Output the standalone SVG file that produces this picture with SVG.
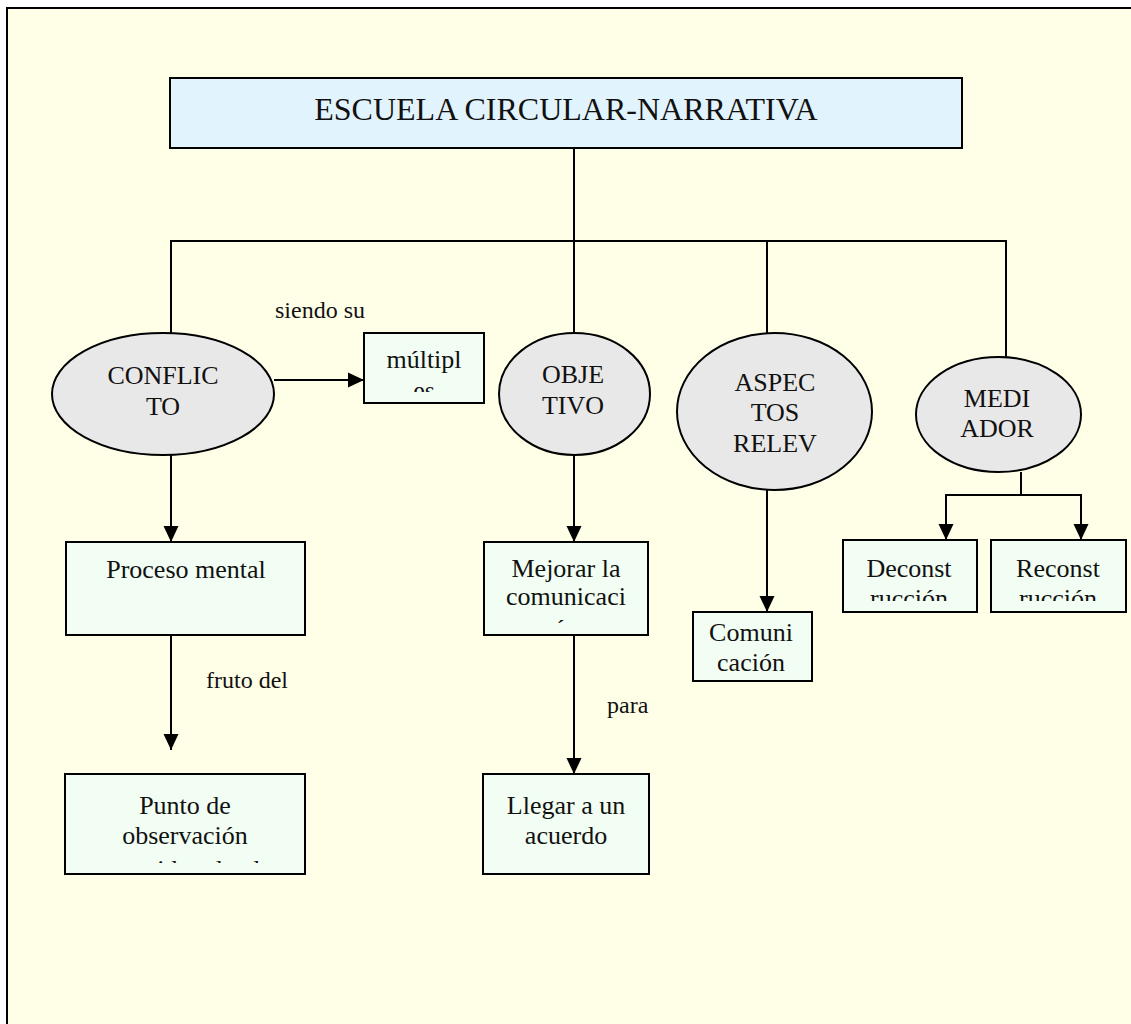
<svg xmlns="http://www.w3.org/2000/svg" width="1131" height="1024" viewBox="0 0 1131 1024">
<style>
  text { font-family: "Liberation Serif", "Times New Roman", serif; fill: #111; text-anchor: middle; }
  .t26 { font-size: 26px; }
  .lbl { font-size: 24px; text-anchor: start; }
  .box { fill: #F2FEF4; stroke: #000; stroke-width: 2; }
  .ell { fill: #E8E8E8; stroke: #000; stroke-width: 2; }
  .ln { fill: none; stroke: #000; stroke-width: 2; }
  .arr { fill: none; stroke: #000; stroke-width: 2; marker-end: url(#ah); }
</style>
<defs>
  <marker id="ah" markerWidth="17" markerHeight="17" refX="16" refY="8" orient="auto" markerUnits="userSpaceOnUse">
    <path d="M0,0.5 L16,8 L0,15.5 z" fill="#000"/>
  </marker>
  <clipPath id="c-mult"><rect x="364" y="333" width="120" height="59"/></clipPath>
  <clipPath id="c-mej"><rect x="484" y="542" width="164" height="81"/></clipPath>
  <clipPath id="c-com"><rect x="693" y="612" width="119" height="61"/></clipPath>
  <clipPath id="c-dec"><rect x="843" y="540" width="134" height="61"/></clipPath>
  <clipPath id="c-rec"><rect x="991" y="540" width="135" height="61"/></clipPath>
  <clipPath id="c-pun"><rect x="65" y="774" width="240" height="89"/></clipPath>
</defs>

<rect x="7" y="8" width="1200" height="1100" fill="#FFFFE8" stroke="#000" stroke-width="2"/>

<g id="connectors">
  <polyline class="ln" points="574,148 574,333"/>
  <polyline class="ln" points="171,333 171,241 1006,241 1006,357"/>
  <polyline class="ln" points="767,241 767,333"/>
  <line class="arr" x1="274" y1="380" x2="364" y2="380"/>
  <line class="arr" x1="171" y1="455" x2="171" y2="542"/>
  <line class="arr" x1="171" y1="635" x2="171" y2="750"/>
  <line class="arr" x1="574" y1="455" x2="574" y2="542"/>
  <line class="arr" x1="574" y1="635" x2="574" y2="774"/>
  <line class="arr" x1="767" y1="490" x2="767" y2="612"/>
  <polyline class="ln" points="1021,472 1021,495"/>
  <polyline class="arr" points="1021,495 946,495 946,540"/>
  <polyline class="arr" points="1021,495 1081,495 1081,540"/>
  <text class="lbl" x="275" y="318">siendo su</text>
  <text class="lbl" x="206" y="688">fruto del</text>
  <text class="lbl" x="607" y="713">para</text>
</g>

<g id="title">
  <rect x="170" y="78" width="792" height="70" fill="#E1F3FD" stroke="#000" stroke-width="2"/>
  <text x="566" y="120" style="font-size:32px">ESCUELA CIRCULAR-NARRATIVA</text>
</g>

<g id="conflicto">
  <ellipse class="ell" cx="163" cy="394" rx="111" ry="61"/>
  <text class="t26" x="163" y="384">CONFLIC</text>
  <text class="t26" x="163" y="415">TO</text>
</g>

<g id="multiples">
  <rect class="box" x="364" y="333" width="120" height="70"/>
  <g clip-path="url(#c-mult)">
    <text class="t26" x="424" y="368">múltipl</text>
    <text class="t26" x="424" y="399">es</text>
  </g>
</g>

<g id="objetivo">
  <ellipse class="ell" cx="574.5" cy="394" rx="75.5" ry="61"/>
  <text class="t26" x="573" y="383">OBJE</text>
  <text class="t26" x="573" y="414">TIVO</text>
</g>

<g id="aspectos">
  <ellipse class="ell" cx="774.5" cy="411.5" rx="97.5" ry="78.5"/>
  <text class="t26" x="775" y="391">ASPEC</text>
  <text class="t26" x="775" y="421">TOS</text>
  <text class="t26" x="775" y="452">RELEV</text>
</g>

<g id="mediador">
  <ellipse class="ell" cx="998.5" cy="414.5" rx="82.5" ry="57.5"/>
  <text class="t26" x="997" y="407">MEDI</text>
  <text class="t26" x="997" y="437">ADOR</text>
</g>

<g id="proceso">
  <rect class="box" x="66" y="542" width="239" height="93"/>
  <text class="t26" x="186" y="578">Proceso mental</text>
</g>

<g id="punto">
  <rect class="box" x="65" y="774" width="240" height="100"/>
  <g clip-path="url(#c-pun)">
    <text class="t26" x="185" y="814">Punto de</text>
    <text class="t26" x="185" y="844">observación</text>
    <text class="t26" x="185" y="878">considerado el</text>
  </g>
</g>

<g id="mejorar">
  <rect class="box" x="484" y="542" width="164" height="93"/>
  <g clip-path="url(#c-mej)">
    <text class="t26" x="566" y="577">Mejorar la</text>
    <text class="t26" x="566" y="605">comunicaci</text>
    <text class="t26" x="566" y="637">ón</text>
  </g>
</g>

<g id="llegar">
  <rect class="box" x="483" y="774" width="166" height="100"/>
  <text class="t26" x="566" y="814">Llegar a un</text>
  <text class="t26" x="566" y="844">acuerdo</text>
</g>

<g id="comunicacion">
  <rect class="box" x="693" y="612" width="119" height="69"/>
  <g clip-path="url(#c-com)">
    <text class="t26" x="751" y="641">Comuni</text>
    <text class="t26" x="751" y="671">cación</text>
  </g>
</g>

<g id="deconstruccion">
  <rect class="box" x="843" y="540" width="134" height="72"/>
  <g clip-path="url(#c-dec)">
    <text class="t26" x="909" y="577">Deconst</text>
    <text class="t26" x="909" y="607">rucción</text>
  </g>
</g>

<g id="reconstruccion">
  <rect class="box" x="991" y="540" width="135" height="72"/>
  <g clip-path="url(#c-rec)">
    <text class="t26" x="1058" y="577">Reconst</text>
    <text class="t26" x="1058" y="607">rucción</text>
  </g>
</g>
</svg>
